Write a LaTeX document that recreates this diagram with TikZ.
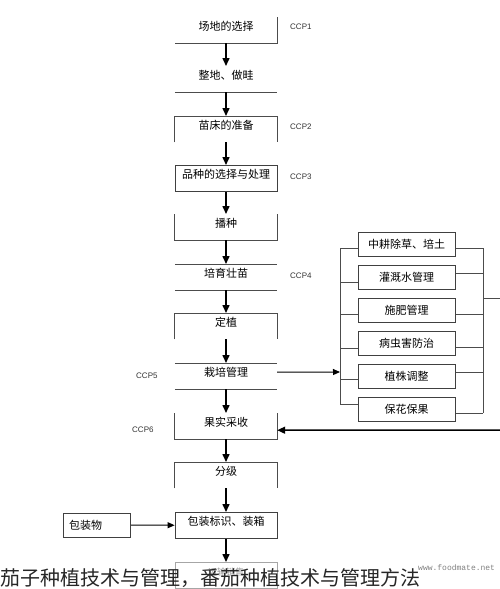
\documentclass[tikz,border=0pt]{standalone}
\usepackage{fontspec}
\setsansfont{Liberation Sans}
\newfontfamily\cjk{Noto Sans CJK SC}
\newfontfamily\wmfont{Liberation Mono}
\usetikzlibrary{arrows.meta}
\pgfdeclarelayer{bg}
\pgfsetlayers{bg,main}

\tikzset{
  stage/.style={font=\cjk\fontsize{11}{13}\selectfont, minimum width=102pt,
    text height=10pt, text depth=10pt, inner ysep=3pt, inner xsep=0pt, anchor=north},
  side/.style={font=\cjk\fontsize{11}{13}\selectfont, draw=black!75, line width=0.8pt,
    minimum width=97pt, minimum height=24pt, inner sep=2pt},
  ccp/.style={font=\sffamily\fontsize{8}{10}\selectfont, text=black!80, anchor=west, inner sep=0pt},
  frame/.style={draw=black!70, line width=0.8pt},
  flow/.style={-{Triangle[length=8pt,width=7pt]}, line width=1.5pt},
  thinflow/.style={-{Triangle[length=7pt,width=6pt]}, line width=1pt},
}

\begin{document}
\begin{tikzpicture}[x=1pt, y=-1pt]
        \useasboundingbox (0,0) rectangle (500,589);
        % main column
        \node (s1) [stage] at (226,17) {场地的选择};
        \node (s2) [stage] at (226,66) {整地、做畦};
        \node (s3) [stage] at (226,116) {苗床的准备};
        \node (s4) [stage, draw=black!75, line width=0.8pt] at (226,165) {品种的选择与处理};
        \node (s5) [stage] at (226,214) {播种};
        \node (s6) [stage] at (226,264) {培育壮苗};
        \node (s7) [stage] at (226,313) {定植};
        \node (s8) [stage] at (226,363) {栽培管理};
        \node (s9) [stage] at (226,413) {果实采收};
        \node (s10) [stage] at (226,462) {分级};
        \node (s11) [stage, draw=black!75, line width=0.8pt] at (226,512) {包装标识、装箱};
        \node (s12) [stage, draw=black!35, text=black!40, font=\cjk\fontsize{9}{11}\selectfont] at (226,562) {运输销售};
        % CCP marks
        \node (c1) [ccp] at (290,27) {CCP1};
        \node (c2) [ccp] at (290,127) {CCP2};
        \node (c3) [ccp] at (290,177) {CCP3};
        \node (c4) [ccp] at (290,276) {CCP4};
        \node (c5) [ccp] at (136,376) {CCP5};
        \node (c6) [ccp] at (132,430) {CCP6};
        % management tasks
        \node (b1) [side] at (406.5,244) {中耕除草、培土};
        \node (b2) [side] at (406.5,277) {灌溉水管理};
        \node (b3) [side] at (406.5,310) {施肥管理};
        \node (b4) [side] at (406.5,343) {病虫害防治};
        \node (b5) [side] at (406.5,376) {植株调整};
        \node (b6) [side] at (406.5,409) {保花保果};
        \node (pk) [side, minimum width=67pt, text width=55pt, align=left, inner xsep=6pt] at (96.5,525) {包装物};
        \coordinate (lt) at (340,248);
        \coordinate (lb) at (340,404);
        \coordinate (lin) at (340,372);
        \coordinate (rt) at (483,248);
        \coordinate (rb) at (483,413);
        \coordinate (rm) at (483,298);
        \coordinate (ro) at (500,298);
        \coordinate (ri) at (500,430);
        % caption and watermark
        \node (wm) [anchor=west, inner sep=0pt, font=\wmfont\fontsize{8}{10}\selectfont, text=black!50] at (418,568) {www.foodmate.net};
        \node (cap) [anchor=base west, inner sep=0pt, font=\cjk\fontsize{20}{24}\selectfont, text=black!85] at (0,585) {茄子种植技术与管理，番茄种植技术与管理方法};
        \begin{pgfonlayer}{bg}
                \draw [frame] (s1.north east) -- (s1.south east) -- (s1.south west);
                \draw [frame] (s2.south west) -- (s2.south east);
                \draw [frame] (s3.south west) -- (s3.north west) -- (s3.north east) -- (s3.south east);
                \draw [frame] (s5.north west) -- (s5.south west) -- (s5.south east) -- (s5.north east);
                \draw [frame] (s6.north west) -- (s6.north east);
                \draw [frame] (s6.south west) -- (s6.south east);
                \draw [frame] (s7.south west) -- (s7.north west) -- (s7.north east) -- (s7.south east);
                \draw [frame] (s8.north west) -- (s8.north east);
                \draw [frame] (s8.south west) -- (s8.south east);
                \draw [frame] (s9.north west) -- (s9.south west) -- (s9.south east) -- (s9.north east);
                \draw [frame] (s10.south west) -- (s10.north west) -- (s10.north east) -- (s10.south east);
                \draw [flow] (s1) -- (s2);
                \draw [flow] (s2) -- (s3);
                \draw [flow] (s3) -- (s4);
                \draw [flow] (s4) -- (s5);
                \draw [flow] (s5) -- (s6);
                \draw [flow] (s6) -- (s7);
                \draw [flow] (s7) -- (s8);
                \draw [flow] (s8) -- (s9);
                \draw [flow] (s9) -- (s10);
                \draw [flow] (s10) -- (s11);
                \draw [flow] (s11) -- (s12);
                \draw [thinflow] (pk) -- (s11);
                \draw [thinflow] ([yshift=4pt]s8.east) -- (lin);
                \draw [frame] (lt) -- (lb);
                \draw [frame] ([yshift=-4pt]b1.west) -- +(-18,0);
                \draw [frame] ([yshift=-5pt]b2.west) -- +(-18,0);
                \draw [frame] ([yshift=-4pt]b3.west) -- +(-18,0);
                \draw [frame] ([yshift=-5pt]b4.west) -- +(-18,0);
                \draw [frame] ([yshift=-3pt]b5.west) -- +(-18,0);
                \draw [frame] ([yshift=5pt]b6.west) -- +(-18,0);
                \draw [frame] (rt) -- (rb);
                \draw [frame] ([yshift=-4pt]b1.east) -- +(28,0);
                \draw [frame] ([yshift=4pt]b2.east) -- +(28,0);
                \draw [frame] ([yshift=-4pt]b3.east) -- +(28,0);
                \draw [frame] ([yshift=-4pt]b4.east) -- +(28,0);
                \draw [frame] ([yshift=4pt]b5.east) -- +(28,0);
                \draw [frame] ([yshift=-4pt]b6.east) -- +(28,0);
                \draw [frame] (rm) -- (ro);
                \draw [flow] (ri) -- ([yshift=-4pt]s9.east);
        \end{pgfonlayer}
\end{tikzpicture}
\end{document}
